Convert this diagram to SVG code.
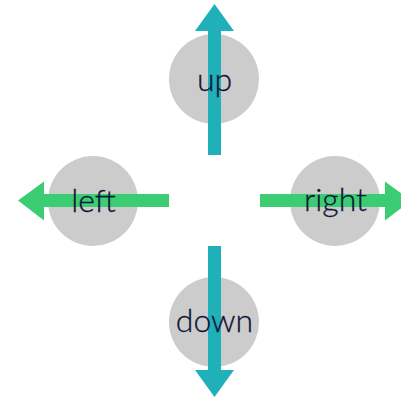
<svg xmlns="http://www.w3.org/2000/svg" width="401" height="398" viewBox="0 0 401 398">
<style>
.c{fill:#cccccc}
.v{fill:#20b0b9}
.h{fill:#3ccd74}
.t{font-family:Lato,"Open Sans",sans-serif;font-size:32px;font-weight:300;fill:#0f1535;stroke:#0f1535;stroke-width:0.3;text-anchor:middle}
</style>
<rect width="401" height="398" fill="#ffffff"/>
<g id="node-up">
<circle class="c" cx="214" cy="79" r="45"/>
</g>
<g id="node-left">
<circle class="c" cx="93" cy="201" r="45"/>
</g>
<g id="node-right">
<circle class="c" cx="335" cy="201" r="45"/>
</g>
<g id="node-down">
<circle class="c" cx="214" cy="322" r="45"/>
</g>
<g id="connectors">
<polygon class="v" points="208,155 208,31 195,31 214.5,4 234,31 221,31 221,155"/>
<polygon class="h" points="169,194 44,194 44,181.5 18,200.5 44,220.5 44,207 169,207"/>
<polygon class="h" points="260,194 385,194 385,181.5 411,200.5 385,220.5 385,207 260,207"/>
<polygon class="v" points="208,246 208,370 195,370 214.5,397 234,370 221,370 221,246"/>
</g>
<g id="labels">
<text class="t" x="214.5" y="91">up</text>
<text class="t" x="93.5" y="211.5">left</text>
<text class="t" x="335.5" y="211">right</text>
<text class="t" x="214.5" y="332">down</text>
</g>
</svg>
